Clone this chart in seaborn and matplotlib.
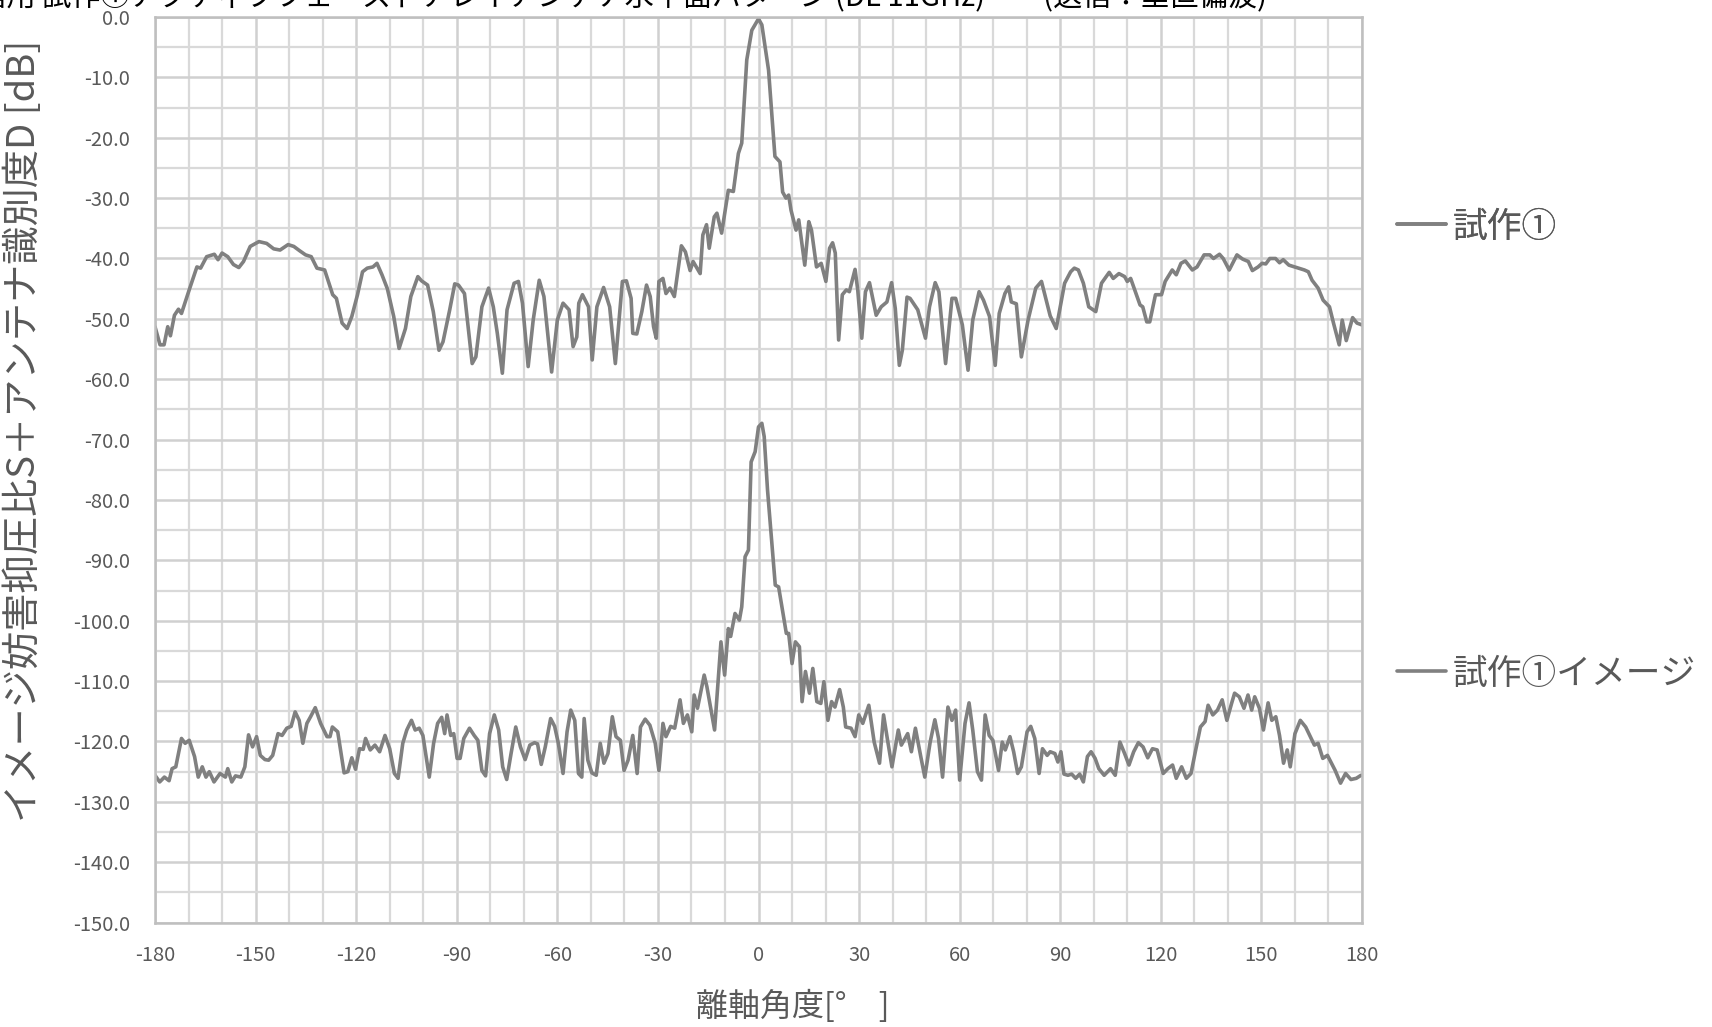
import numpy as np
import pandas as pd
import matplotlib
matplotlib.use("Agg")
import matplotlib.pyplot as plt
from matplotlib.ticker import MultipleLocator, FormatStrFormatter
import seaborn as sns

# ---------------- data ----------------
series_names = ["試作①", "試作①イメージ"]

top_angle = [-180, -178.5, -177.3, -176.2, -175.4, -174.2, -173, -172.1, -169.8, -167.5,
             -166.4, -164.6, -162.3, -161.2, -160, -158.3, -156.6, -155, -153.6, -151.6,
             -149, -146.7, -144.6, -142.7, -140.3, -138.6, -136.9, -135.1, -133.4, -131.7,
             -129.4, -127, -125.9, -124.2, -122.7, -121.3, -119.6, -118.1, -116.7, -115,
             -113.8, -112.3, -110.7, -108.8, -107.2, -105.3, -103.7, -101.6, -100.5, -98.7,
             -97, -95.3, -94.1, -92.1, -90.6, -89.5, -87.7, -85.4, -84.3, -82.5,
             -80.5, -79.1, -77.9, -76.4, -75, -72.9, -71.6, -70.4, -68.7, -67.2,
             -65.4, -64, -61.7, -60, -58.3, -56.5, -55.3, -54.2, -53.6, -52.5,
             -50.7, -49.6, -48.2, -46.2, -44.4, -42.7, -40.6, -39.4, -38, -37.5,
             -36.3, -34.8, -33.4, -32.3, -31.3, -30.5, -29.7, -28.5, -27.6, -26.4,
             -25.1, -23, -21.8, -20.4, -19.5, -17.4, -16.6, -15.5, -14.7, -13.2,
             -12.4, -11, -9, -7.5, -6, -5, -3.5, -2, 0, 1,
             3, 4.9, 6.4, 7.2, 8.2, 9, 9.7, 11.2, 12, 13.8,
             15, 15.8, 17.3, 18.7, 20.1, 21.2, 22.1, 22.9, 23.9, 25,
             26.2, 27.1, 28.8, 29.6, 30.8, 31.9, 33.1, 35.1, 36.6, 38.3,
             39.7, 40.8, 42, 42.9, 44.3, 45.2, 47.5, 49.8, 51, 52.7,
             53.8, 55.8, 57.7, 58.8, 60.8, 62.5, 63.9, 65.8, 67.1, 68.9,
             70.6, 71.8, 73.5, 74.6, 75.4, 76.9, 78.4, 80.4, 82.7, 84.4,
             87, 88.8, 91.3, 93.1, 94.2, 95.4, 96.9, 98.5, 100.6, 102.3,
             104.6, 105.8, 107.5, 109.2, 110, 111, 112.7, 113.8, 114.6, 115.8,
             116.7, 118.4, 120.2, 121.3, 123.4, 124.6, 126, 127.3, 129.4, 130.8,
             132.9, 134.6, 135.7, 137.5, 138.6, 140.4, 142.7, 144.4, 146.1, 147.3,
             149, 150.2, 151.3, 152.5, 154.2, 155.4, 156.5, 158.2, 160.5, 162.8,
             164, 165.1, 166.9, 168.4, 170.3, 171.5, 173.2, 174.1, 175.3, 177.2,
             178.5, 180]
top_db = [-51.3, -54.3, -54.3, -51.3, -52.8, -49.4, -48.4, -49.1, -45.2, -41.4,
          -41.6, -39.7, -39.3, -40.2, -39.1, -39.7, -41.0, -41.5, -40.5, -38.0,
          -37.2, -37.5, -38.4, -38.6, -37.7, -38.0, -38.7, -39.4, -39.7, -41.6,
          -41.9, -46.0, -46.6, -50.7, -51.6, -49.6, -46.0, -42.2, -41.6, -41.4,
          -40.8, -42.7, -45.0, -49.6, -54.9, -51.6, -46.3, -43.0, -43.7, -44.4,
          -48.8, -55.2, -53.8, -48.5, -44.2, -44.4, -45.8, -57.4, -56.3, -48.0,
          -44.9, -48.0, -52.4, -59.0, -48.5, -44.1, -43.8, -47.4, -57.9, -50.2,
          -43.6, -46.3, -58.8, -50.2, -47.4, -48.5, -54.6, -53.0, -47.4, -46.0,
          -48.0, -56.8, -48.0, -44.8, -48.0, -57.4, -43.8, -43.7, -46.6, -52.4,
          -52.5, -48.8, -44.4, -46.3, -51.3, -53.2, -43.8, -43.3, -45.8, -44.9,
          -46.3, -37.9, -38.9, -42.0, -40.5, -42.5, -36.1, -34.4, -38.3, -33.1,
          -32.5, -35.8, -28.7, -28.9, -22.6, -20.9, -7.1, -2.2, -0.3, -1.3,
          -8.8, -23.1, -24.0, -29.0, -30.0, -29.5, -32.0, -35.3, -33.6, -41.1,
          -33.9, -35.3, -41.4, -40.8, -43.8, -38.3, -37.4, -39.1, -53.5, -46.0,
          -45.2, -45.5, -41.8, -45.2, -53.2, -45.5, -44.0, -49.4, -48.0, -47.2,
          -44.0, -48.3, -57.7, -55.2, -46.4, -46.6, -48.5, -53.2, -48.0, -44.0,
          -45.5, -57.4, -46.6, -46.6, -51.0, -58.5, -50.2, -45.5, -46.9, -49.6,
          -57.7, -49.1, -45.8, -44.7, -47.2, -47.5, -56.3, -50.2, -44.9, -43.8,
          -49.5, -51.6, -44.1, -42.2, -41.6, -41.9, -44.1, -48.0, -48.8, -44.1,
          -42.3, -43.3, -42.5, -43.0, -43.8, -43.3, -46.0, -47.7, -48.0, -50.5,
          -50.5, -46.0, -46.0, -43.8, -41.9, -42.7, -40.8, -40.4, -41.9, -41.4,
          -39.4, -39.4, -40.0, -39.3, -40.0, -41.9, -39.4, -40.1, -40.5, -42.0,
          -41.4, -40.8, -40.9, -40.0, -40.0, -40.7, -40.2, -41.1, -41.5, -41.9,
          -42.2, -43.6, -44.9, -46.9, -48.0, -50.7, -54.3, -50.2, -53.6, -49.8,
          -50.7, -51.0]

img_angle = [-180, -178.6, -177.2, -175.8, -174.9, -173.8, -172.1, -171, -169.8, -168.2,
             -167.1, -165.9, -164.8, -163.8, -162.4, -160.6, -159, -158.3, -157.1, -156,
             -154.4, -153.2, -152.1, -150.9, -149.7, -148.6, -147.2, -146.1, -144.9, -143.3,
             -142.1, -140.7, -139.4, -138.2, -137, -135.9, -134.7, -133.6, -132.2, -130.6,
             -128.7, -127.8, -127.1, -125.5, -123.6, -122.5, -121.3, -120.2, -119, -117.9,
             -117.2, -115.8, -114.4, -113, -111.4, -110, -108.6, -107.5, -106.1, -104.9,
             -103.5, -102.4, -101.2, -100.1, -98.2, -96.9, -95.7, -94.5, -93.6, -92.9,
             -91.8, -90.9, -89.9, -89, -87.9, -86.2, -84.8, -83.7, -82.5, -81.4,
             -80.2, -78.8, -77.5, -76.3, -75.1, -73.8, -72.4, -71, -69.6, -68.2,
             -66.8, -65.9, -64.8, -63.6, -62, -60.8, -59.7, -58.3, -57.1, -56,
             -54.8, -53.7, -52.7, -52, -50.9, -49.7, -48.4, -47.2, -46.1, -44.9,
             -43.6, -42.5, -41.2, -40.1, -38.9, -37.5, -36.2, -35.2, -33.8, -32.4,
             -30.8, -29.7, -28.5, -27.6, -26.2, -25, -23.4, -22.4, -21.2, -19.9,
             -19.2, -18.2, -16.2, -15.4, -13.1, -11.2, -10.1, -9, -8.3, -7,
             -5.7, -5, -4, -3, -2.2, -1, 0, 1, 1.7, 2.7,
             3.5, 5, 6, 8.3, 9, 10, 11, 12.2, 13, 14,
             15.2, 16.2, 17.4, 18.6, 19.5, 20.7, 21.8, 22.8, 24.2, 25.3,
             26, 27.6, 28.8, 29.9, 31.1, 32.9, 34.5, 36.1, 37.3, 38.5,
             39.8, 41.7, 42.6, 44.5, 45.6, 46.8, 48.4, 49.6, 51.2, 52.6,
             53.7, 54.9, 56.5, 57.7, 58.8, 60, 61.6, 62.8, 63.9, 65.3,
             66.5, 67.6, 68.8, 69.9, 71.6, 72.7, 73.6, 75, 76.1, 77.3,
             78.4, 80.1, 81.2, 82.4, 83.7, 84.7, 86.1, 87, 88.4, 89.3,
             90.2, 91.1, 92.3, 93.4, 94.6, 95.8, 96.9, 98.1, 99.2, 100.4,
             101.5, 103.1, 105, 106.4, 107.8, 109.2, 110.5, 111.9, 113.3, 114.7,
             116.1, 117.5, 118.9, 120.7, 122.1, 123.5, 124.6, 126.2, 127.6, 129,
             130.4, 131.8, 133.2, 134.1, 135.5, 136.9, 138.3, 139.7, 141.1, 142,
             143.4, 144.8, 146, 147.1, 148, 149.4, 150.6, 152, 153.1, 154.3,
             155.4, 156.6, 157.7, 158.6, 160, 161.6, 163.2, 164.6, 165.8, 166.9,
             168.3, 169.7, 170.9, 172, 173.6, 175.1, 176.7, 178.3, 179.7]
img_db = [-125.6, -126.7, -125.9, -126.5, -124.5, -124.2, -119.5, -120.3, -119.8, -122.5,
          -125.9, -124.2, -125.9, -125.0, -126.7, -125.3, -125.9, -124.5, -126.7, -125.7,
          -125.9, -124.2, -118.9, -120.9, -119.2, -122.3, -123.0, -123.1, -122.3, -118.7,
          -119.0, -117.8, -117.5, -115.1, -116.5, -120.3, -117.0, -115.9, -114.4, -117.0,
          -119.2, -119.2, -117.6, -118.4, -125.2, -125.0, -122.7, -124.6, -121.2, -121.3,
          -119.5, -121.4, -120.6, -121.7, -119.0, -121.2, -125.3, -126.1, -120.3, -118.1,
          -116.5, -118.1, -117.8, -119.0, -125.9, -120.3, -117.0, -116.0, -118.7, -115.6,
          -119.0, -118.7, -122.8, -122.8, -119.5, -117.8, -119.0, -119.8, -124.8, -125.7,
          -118.7, -115.6, -118.1, -124.2, -126.3, -122.0, -117.6, -120.9, -123.0, -120.6,
          -120.2, -120.4, -123.8, -120.9, -116.2, -117.5, -120.3, -125.3, -118.4, -114.8,
          -116.5, -125.3, -125.9, -116.2, -123.1, -125.2, -125.6, -120.3, -123.6, -122.0,
          -115.9, -119.2, -119.8, -124.8, -123.1, -119.0, -125.3, -117.6, -116.3, -117.3,
          -120.3, -124.8, -117.0, -119.2, -117.5, -117.8, -113.1, -117.0, -115.6, -118.4,
          -112.3, -114.5, -109.0, -110.9, -118.1, -103.5, -109.0, -101.3, -102.6, -98.8,
          -99.9, -97.7, -89.4, -88.3, -73.7, -72.0, -67.9, -67.3, -69.5, -78.4,
          -83.9, -94.1, -94.4, -102.1, -102.1, -107.1, -103.5, -104.3, -113.4, -108.4,
          -112.0, -107.9, -113.4, -113.7, -110.1, -116.5, -113.4, -114.3, -111.4, -114.3,
          -117.6, -117.8, -119.2, -115.6, -117.0, -114.0, -120.1, -123.6, -115.6, -119.8,
          -124.2, -118.1, -120.6, -118.7, -121.7, -117.8, -122.5, -125.9, -120.1, -116.4,
          -119.5, -125.9, -114.3, -116.5, -114.8, -126.4, -117.0, -113.6, -118.1, -125.0,
          -126.4, -115.6, -119.0, -119.8, -124.8, -120.1, -121.4, -119.2, -121.7, -125.3,
          -124.2, -118.4, -117.5, -119.5, -125.3, -121.2, -122.3, -121.7, -122.0, -123.4,
          -121.7, -125.4, -125.6, -125.4, -126.1, -125.4, -126.7, -122.5, -121.7, -122.8,
          -124.5, -125.6, -124.5, -125.6, -120.1, -122.0, -123.9, -121.7, -120.2, -120.9,
          -122.7, -121.2, -121.4, -125.3, -124.5, -123.9, -126.1, -124.2, -126.1, -125.3,
          -121.4, -117.6, -116.7, -114.0, -115.6, -114.8, -113.1, -116.5, -113.7, -112.0,
          -112.6, -114.5, -112.3, -114.8, -112.6, -114.5, -118.1, -113.6, -116.5, -115.9,
          -119.0, -123.6, -121.4, -124.2, -118.7, -116.5, -117.6, -119.2, -120.6, -120.3,
          -122.8, -122.3, -123.6, -124.8, -126.9, -125.3, -126.3, -126.1, -125.6]

x_ticks = list(range(-180, 181, 30))
y_min, y_max = -150, 0

# ---------------- style ----------------
sns.set_theme(style="white")
plt.rcParams['font.family'] = ['Noto Sans CJK JP', 'DejaVu Sans']
plt.rcParams['axes.unicode_minus'] = False

GREY_TXT = "#595959"
LINE = "#808080"

fig = plt.figure(figsize=(17.12, 10.27), dpi=100)
ax = fig.add_axes([155/1712, 1 - 922.6/1027, (1362-155)/1712, (922.6-17)/1027])

df_top = pd.DataFrame({"angle": top_angle, "db": top_db})
df_img = pd.DataFrame({"angle": img_angle, "db": img_db})

sns.lineplot(data=df_top, x="angle", y="db", ax=ax, color=LINE, lw=2.6,
             sort=False, estimator=None, label=series_names[0], legend=False)
sns.lineplot(data=df_img, x="angle", y="db", ax=ax, color=LINE, lw=2.6,
             sort=False, estimator=None, label=series_names[1], legend=False)

ax.set_xlim(-180, 180)
ax.set_ylim(y_min, y_max)
ax.set_xticks(x_ticks)
ax.xaxis.set_minor_locator(MultipleLocator(10))
ax.yaxis.set_major_locator(MultipleLocator(10))
ax.yaxis.set_minor_locator(MultipleLocator(5))
ax.yaxis.set_major_formatter(FormatStrFormatter("%.1f"))

ax.grid(True, which="major", color="#d0d0d0", lw=1.8)
ax.grid(True, which="minor", color="#d9d9d9", lw=1.6)
ax.set_axisbelow(True)
for s in ax.spines.values():
    s.set_color("#bfbfbf")
    s.set_linewidth(1.8)

ax.tick_params(axis="both", which="both", length=0)
ax.tick_params(axis="y", labelsize=14.5, labelcolor=GREY_TXT, pad=18)
ax.tick_params(axis="x", labelsize=14.5, labelcolor=GREY_TXT, pad=16)

ax.set_xlabel("離軸角度[°　]", fontsize=23, color=GREY_TXT)
ax.xaxis.set_label_coords(0.528, -0.0745)
ax.set_ylabel("イメージ妨害抑圧比S＋アンテナ識別度D [dB]", fontsize=27.5, color=GREY_TXT)
ax.yaxis.set_label_coords(-0.092, 0.543)

# legends (two separate entries as in the original)
lines = ax.get_lines()
leg1 = fig.legend(handles=[lines[0]], labels=[series_names[0]], loc="center left",
                  bbox_to_anchor=(1397/1712, 1 - 227/1027), frameon=False,
                  fontsize=25, handlelength=1.4, handletextpad=0.2,
                  borderpad=0, borderaxespad=0, labelcolor=GREY_TXT)
fig.legend(handles=[lines[1]], labels=[series_names[1]], loc="center left",
           bbox_to_anchor=(1397/1712, 1 - 674/1027), frameon=False,
           fontsize=25, handlelength=1.4, handletextpad=0.2,
           borderpad=0, borderaxespad=0, labelcolor=GREY_TXT)
fig.add_artist(leg1)

# title (cut off at the top edge, as in the reference)
fig.text(1267/1712, 1 - 5/1027,
         "衛星通信用 試作①アクティブフェーズドアレイアンテナ水平面パターン (DL 11GHz)　　(送信：垂直偏波)",
         ha="right", va="baseline", fontsize=21, color="black")

fig.savefig("out.png", dpi=100)
